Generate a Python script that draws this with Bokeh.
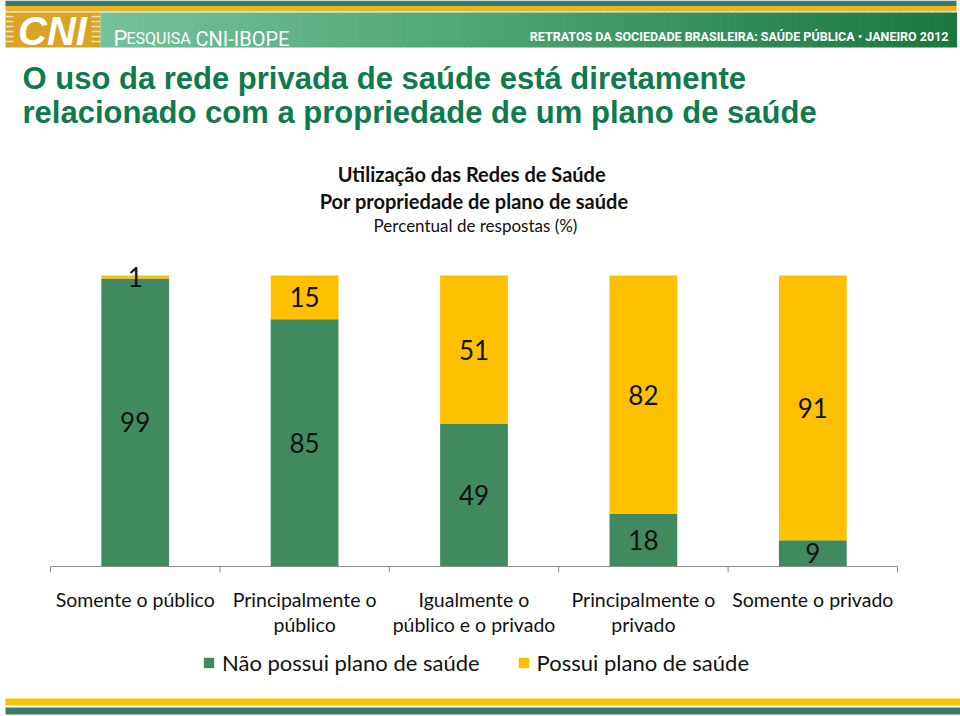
from bokeh.plotting import figure
from bokeh.models import Range1d, Legend, LegendItem, ColumnDataSource
from bokeh.core.properties import value
from bokeh.embed import file_html
from bokeh.resources import INLINE

# ---------------- data ----------------
categories = ["Somente o público", "Principalmente o\npúblico",
              "Igualmente o\npúblico e o privado", "Principalmente o\nprivado",
              "Somente o privado"]
nao_possui = [99, 85, 49, 18, 9]
possui = [1, 15, 51, 82, 91]
series_names = ["Não possui plano de saúde", "Possui plano de saúde"]

title_lines = ["O uso da rede privada de saúde está diretamente",
               "relacionado com a propriedade de um plano de saúde"]
subtitle_lines = ["Utilização  das Redes de  Saúde", "Por  propriedade de plano de saúde"]
subtitle_note = "Percentual de respostas (%)"
header_right = "RETRATOS DA SOCIEDADE BRASILEIRA: SAÚDE PÚBLICA • JANEIRO 2012"

GREEN = "#418a60"
GOLD = "#ffc000"
TITLE_GREEN = "#0e7a4e"
AXIS_GRAY = "#8c8c8c"
W, H = 960, 716

# pixel geometry of the chart area
PX_PER_CAT = 169.4
PX_PER_PCT = 2.91
X0_PAGE = 50      # x of category 0 boundary
Y0_PAGE = 566     # y of value 0
def xr(px): return (px - X0_PAGE) / PX_PER_CAT
def yr(py): return (Y0_PAGE - py) / PX_PER_PCT

p = figure(width=W, height=H,
           x_range=Range1d(xr(0), xr(W)), y_range=Range1d(yr(H), yr(0)),
           x_axis_location=None, y_axis_location=None, min_border=0,
           outline_line_color=None, output_backend="svg", toolbar_location=None)
p.grid.visible = False
p.extra_x_ranges = {"px": Range1d(0, W)}
p.extra_y_ranges = {"py": Range1d(H, 0)}
PXR = dict(x_range_name="px", y_range_name="py")

# ---------------- header ----------------
p.quad(left=[5], right=[956], top=[0], bottom=[5.5], color="#3a7868", line_color=None, **PXR)
p.quad(left=[5], right=[956], top=[5.5], bottom=[11], color="#e9b526", line_color=None, **PXR)
p.quad(left=[5], right=[100], top=[12], bottom=[47], color="#d9a326", line_color=None, **PXR)

n = 120
c0, c1, c2 = (116, 194, 156), (72, 162, 112), (26, 120, 60)
ls, rs, cols = [], [], []
for i in range(n):
    t = i / (n - 1)
    if t < 0.5:
        a, b, u = c0, c1, t / 0.5
    else:
        a, b, u = c1, c2, (t - 0.5) / 0.5
    col = tuple(int(a[k] + (b[k] - a[k]) * u) for k in range(3))
    x0 = 100 + (956 - 100) * i / n
    ls.append(x0)
    rs.append(x0 + (956 - 100) / n + 0.6)
    cols.append("#%02x%02x%02x" % col)
p.quad(left=ls, right=rs, top=12, bottom=47, color=cols, line_color=None, **PXR)

sy = [16, 21, 26, 31, 36, 41]
p.segment(x0=[5] * 6, x1=[13] * 6, y0=sy, y1=sy, line_color="#f5e6b8", line_width=1.5, **PXR)
p.segment(x0=[91] * 6, x1=[100] * 6, y0=sy, y1=sy, line_color="#f5e6b8", line_width=1.5, **PXR)
p.text(x=[52], y=[30], text=["CNI"], text_align="center", text_baseline="middle",
       text_font=value("Liberation Sans"), text_font_style="bold italic",
       text_font_size="40px", text_color="white", **PXR)

p.text(x=[113], y=[38], text=["P"], text_baseline="alphabetic",
       text_font=value("Roboto"), text_font_size="22px", text_color="white", **PXR)
p.text(x=[126], y=[38], text=["ESQUISA"], text_baseline="alphabetic",
       text_font=value("Roboto"), text_font_size="16px", text_color="white", **PXR)
p.text(x=[195], y=[38], text=["CNI-IBOPE"], text_baseline="alphabetic",
       text_font=value("Roboto"), text_font_size="20px", text_color="white", **PXR)
p.text(x=[948], y=[36], text=[header_right], text_align="right", text_baseline="alphabetic",
       text_font=value("Roboto"), text_font_style="bold",
       text_font_size="12.5px", text_color="white", **PXR)

# ---------------- titles ----------------
p.text(x=[22, 22], y=[78, 112], text=title_lines, text_baseline="middle",
       text_font=value("Liberation Sans"), text_font_style="bold",
       text_font_size="31px", text_color=TITLE_GREEN, **PXR)
p.text(x=[476, 476], y=[173, 200], text=subtitle_lines, text_align="center",
       text_baseline="middle", text_font=value("Lato"), text_font_style="bold",
       text_font_size="20px", text_color="#111111", **PXR)
p.text(x=[475], y=[225], text=[subtitle_note], text_align="center",
       text_baseline="middle", text_font=value("Lato"),
       text_font_size="17px", text_color="#111111", **PXR)

# ---------------- bars ----------------
xs = [i + 0.5 for i in range(len(categories))]
src = ColumnDataSource(dict(x=xs, nao=nao_possui, pos=possui))
rends = p.vbar_stack(["nao", "pos"], x="x", width=0.4, source=src,
                     color=[GREEN, GOLD], line_color=None)

lab_x = xs + xs
lab_y = [v / 2 for v in nao_possui] + [a + b / 2 for a, b in zip(nao_possui, possui)]
lab_t = [str(v) for v in nao_possui] + [str(v) for v in possui]
p.text(x=lab_x, y=lab_y, text=lab_t, text_align="center", text_baseline="middle",
       text_font=value("Lato"), text_font_size="26px", text_color="#111111")

# ---------------- category axis ----------------
ncat = len(categories)
tick_len = 6 / PX_PER_PCT
p.segment(x0=[0], x1=[ncat], y0=[0], y1=[0], line_color=AXIS_GRAY, line_width=1)
p.segment(x0=list(range(ncat + 1)), x1=list(range(ncat + 1)), y0=[0] * (ncat + 1),
          y1=[-tick_len] * (ncat + 1), line_color=AXIS_GRAY, line_width=1)
p.text(x=xs, y=[-21 / PX_PER_PCT] * ncat, text=categories, text_align="center",
       text_baseline="top", text_line_height=1.12, text_font=value("Lato"),
       text_font_size="19.5px", text_color="#111111")

# ---------------- legend ----------------
legend = Legend(items=[LegendItem(label=series_names[0], renderers=[rends[0]]),
                       LegendItem(label=series_names[1], renderers=[rends[1]])],
                orientation="horizontal", location=(202, 40),
                label_text_font="Lato", label_text_font_size="22px",
                label_text_color="#111111", glyph_width=13, glyph_height=13,
                label_height=24, spacing=37, label_standoff=7, padding=0, margin=0,
                border_line_color=None, background_fill_alpha=0)
p.add_layout(legend, "center")

# ---------------- footer ----------------
p.quad(left=[5], right=[960], top=[698], bottom=[705], color="#f5c400", line_color=None, **PXR)
p.quad(left=[5], right=[960], top=[707], bottom=[714], color="#3b7a6a", line_color=None, **PXR)

open("out.html", "w").write(file_html(p, INLINE))
